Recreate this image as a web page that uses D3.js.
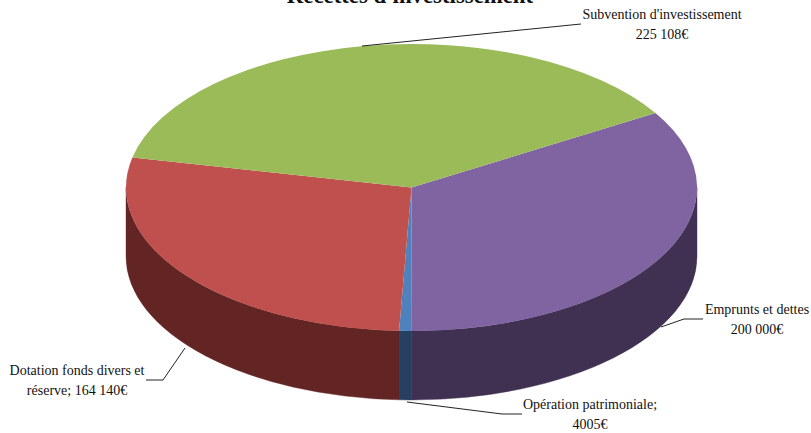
<!DOCTYPE html>
<html><head><meta charset="utf-8">
<script src="https://cdnjs.cloudflare.com/ajax/libs/d3/7.8.5/d3.min.js"></script>
<style>html,body{margin:0;padding:0;background:#fff;overflow:hidden}svg{display:block}text{font-family:"Liberation Serif",serif;fill:#111}</style>
</head><body><svg id="c" width="811" height="433"></svg>
<script>
const categories = ["Emprunts et dettes","Opération patrimoniale","Dotation fonds divers et réserve","Subvention d'investissement"];
const values = [200000,4005,164140,225108];
const topColors = ["#8064A2","#4F81BD","#C0504D","#9BBB59"];
const sideColors = ["#403152","#254061","#632523","#4F6128"];
const labelLines = [
  ["Emprunts et dettes","200 000€"],
  ["Opération patrimoniale;","4005€"],
  ["Dotation fonds divers et","réserve; 164 140€"],
  ["Subvention d'investissement","225 108€"]
];
const labelCenters = [[757,314],[590,409],[77,375],[662,19]];
const leaders = [
  [[661,327],[684,319],[703,319]],
  [[407,402],[502,414],[522,414]],
  [[185,348],[163,380],[146,380]],
  [[362,46],[581,24]]
];
const titleText = "Recettes d'investissement";

const cx=411.5, cy=187.5, rx=285.5, ry=143.5, depth=69;
const startDeg=58.7;
const svg=d3.select("#c");
const pie=d3.pie().sort(null).startAngle(startDeg*Math.PI/180).endAngle((startDeg+360)*Math.PI/180);
const slices=pie(values);
const pt=(a,dy=0)=>[cx+rx*Math.sin(a),cy-ry*Math.cos(a)+dy];

// side walls: only the part of each slice in the front half
const sides=svg.append("g");
slices.forEach((s,i)=>{
  const ranges=[[s.startAngle,s.endAngle],[s.startAngle-2*Math.PI,s.endAngle-2*Math.PI]];
  ranges.forEach(([a,b])=>{
    const a0=Math.max(a,Math.PI/2), a1=Math.min(b,3*Math.PI/2);
    if(a1<=a0) return;
    const p0=pt(a0),p1=pt(a1),q1=pt(a1,depth),q0=pt(a0,depth);
    sides.append("path")
      .attr("d",`M${p0}A${rx},${ry} 0 0 1 ${p1}L${q1}A${rx},${ry} 0 0 0 ${q0}Z`)
      .attr("fill",sideColors[i]).attr("stroke",sideColors[i]).attr("stroke-width",0.4);
  });
});

// top face: unit-radius arc scaled to the tilted ellipse
const arc=d3.arc().innerRadius(0).outerRadius(100);
svg.append("g").attr("transform",`translate(${cx},${cy}) scale(${rx/100},${ry/100})`)
  .selectAll("path").data(slices).join("path")
  .attr("d",arc).attr("fill",(d,i)=>topColors[i]);

// leaders
const line=d3.line();
svg.append("g").selectAll("path").data(leaders).join("path")
  .attr("d",line).attr("fill","none").attr("stroke","#222").attr("stroke-width",1);

// labels
labelLines.forEach((ls,i)=>{
  const t=svg.append("text").attr("text-anchor","middle").attr("font-size",14);
  ls.forEach((l,j)=>t.append("tspan").attr("x",labelCenters[i][0]).attr("y",labelCenters[i][1]+j*19.5).text(l));
});
svg.append("text").attr("x",410).attr("y",3).attr("text-anchor","middle")
  .attr("font-size",22.8).attr("font-weight","bold").text(titleText);
</script></body></html>
